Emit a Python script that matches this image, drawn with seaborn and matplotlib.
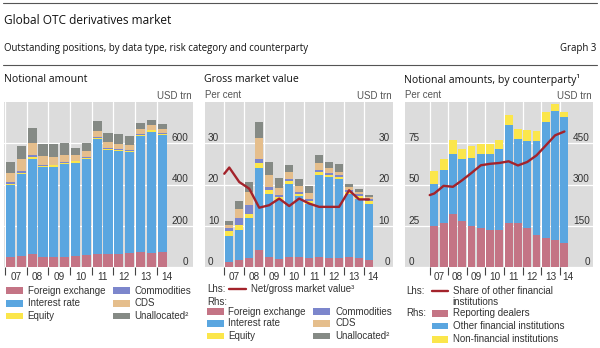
import numpy as np
import matplotlib
matplotlib.use("Agg")
import matplotlib.pyplot as plt
import seaborn as sns
from matplotlib.patches import Rectangle
from matplotlib.lines import Line2D

# ---------------- data ----------------
periods = ["Jun07", "Dec07", "Jun08", "Dec08", "Jun09", "Dec09", "Jun10", "Dec10",
           "Jun11", "Dec11", "Jun12", "Dec12", "Jun13", "Dec13", "Jun14"]
year_labels = ["07", "08", "09", "10", "11", "12", "13", "14"]

# Notional amount, USD trn
na_fx = [48.6, 56.2, 63.0, 50.0, 48.7, 49.2, 53.2, 57.8, 64.7, 63.3, 66.6, 67.4, 73.1, 70.6, 74.8]
na_ir = [347.3, 393.1, 458.3, 432.7, 437.2, 449.9, 451.8, 465.3, 553.2, 504.1, 494.0, 489.7, 561.3, 584.8, 563.3]
na_eq = [8.6, 8.5, 10.2, 6.5, 6.6, 5.9, 6.3, 5.6, 6.8, 6.0, 6.3, 6.3, 6.8, 6.6, 6.9]
na_com = [7.6, 8.5, 13.2, 4.4, 3.7, 2.9, 2.9, 2.9, 3.2, 3.1, 3.0, 2.6, 2.5, 2.2, 2.2]
na_cds = [42.6, 58.2, 57.4, 41.9, 36.0, 32.7, 30.3, 29.9, 32.4, 28.6, 26.9, 25.1, 24.3, 21.0, 19.5]
na_un = [54, 60, 69, 60, 63, 60, 34, 40, 46, 42, 45, 44, 27, 26, 25]

# Gross market value, USD trn
gv_fx = [1.4, 1.8, 2.3, 4.1, 2.6, 2.1, 2.5, 2.5, 2.3, 2.6, 2.3, 2.3, 2.4, 2.2, 1.7]
gv_ir = [6.2, 7.2, 9.5, 20.0, 15.2, 14.1, 17.7, 14.7, 13.1, 19.8, 19.4, 19.0, 15.2, 14.4, 13.7]
gv_eq = [1.1, 1.1, 1.1, 1.1, 0.9, 0.7, 0.7, 0.6, 0.7, 0.7, 0.6, 0.6, 0.7, 0.7, 0.7]
gv_com = [0.7, 1.9, 2.2, 0.9, 0.7, 0.5, 0.5, 0.5, 0.5, 0.5, 0.4, 0.4, 0.4, 0.3, 0.3]
gv_cds = [0.7, 2.0, 3.2, 5.1, 2.9, 1.8, 1.7, 1.4, 1.3, 1.6, 1.2, 0.8, 0.7, 0.6, 0.6]
gv_un = [1.2, 2.0, 2.2, 4.0, 3.1, 2.4, 1.7, 1.7, 1.7, 2.0, 1.6, 1.9, 0.8, 0.8, 0.5]
# Net/gross market value, per cent (first point at start of period)
ng_pos = [-0.5, 0, 1, 2, 3, 4, 5, 6, 7, 8, 9, 10, 11, 12, 13, 14]
ng_pct = [22.6, 24.1, 20.6, 19.0, 14.4, 15.0, 16.6, 14.8, 16.6, 15.4, 14.6, 14.6, 14.6, 18.6, 16.4, 16.4]

# Notional amounts by counterparty, USD trn
cp_rd = [151, 159, 192, 168, 151, 141, 135, 135, 159, 159, 141, 117, 105, 99, 87]
cp_ofi = [150, 193, 217, 226, 246, 271, 277, 292, 355, 307, 315, 339, 421, 469, 457]
cp_nfi = [47, 42, 51, 36, 41, 36, 36, 36, 38, 36, 40, 37, 36, 22, 18]
# Share of other financial institutions, per cent
ofi_pos = [-0.5, 0, 1, 2, 3, 4, 5, 6, 7, 8, 9, 10, 11, 12, 13, 14]
ofi_pct = [43.6, 44.6, 49.2, 48.6, 52.6, 57.0, 61.6, 62.5, 63.0, 64.0, 61.5, 63.6, 67.6, 73.6, 79.7, 82.0]

risk_labels = ["Foreign exchange", "Interest rate", "Equity", "Commodities", "CDS", "Unallocated²"]
cp_labels = ["Reporting dealers", "Other financial institutions", "Non-financial institutions"]

# ---------------- style ----------------
C_FX = "#C47485"
C_IR = "#5AA6E0"
C_EQ = "#FBE64B"
C_COM = "#7C86CC"
C_CDS = "#E5BE8C"
C_UN = "#858A85"
C_LINE = "#A3232B"
BG = "#DCDCDC"
TXT = "#333333"
risk_colors = [C_FX, C_IR, C_EQ, C_COM, C_CDS, C_UN]

sns.set_theme(style="white")
plt.rcParams['font.family'] = ['Liberation Sans', 'DejaVu Sans']
TITLE_FONT = ['Open Sans', 'DejaVu Sans']

W, H = 600, 348
fig = plt.figure(figsize=(W / 100, H / 100), dpi=100)


def fx(px):
    return px / W


def fy(py):
    return 1 - py / H


Y_TOP, Y_BOT = 101.7, 267.3
n = len(periods)
xpos = np.arange(n)


def make_axes(x0, x1, xl, xr, ymax):
    ax = fig.add_axes([fx(x0), fy(Y_BOT), (x1 - x0) / W, (Y_BOT - Y_TOP) / H])
    ax.set_facecolor(BG)
    for s in ax.spines.values():
        s.set_visible(False)
    ax.set_xlim(xl, xr)
    ax.set_ylim(0, ymax)
    return ax


def stacked(ax, layers, colors):
    cum = np.cumsum(np.array(layers, dtype=float), axis=0)
    for i in range(len(layers) - 1, -1, -1):
        sns.barplot(x=xpos, y=cum[i], color=colors[i], native_scale=True, width=0.84,
                    saturation=1, errorbar=None, linewidth=0, ax=ax, zorder=2)


def finish(ax, xl, xr, ymax, ticks):
    ax.set_xlim(xl, xr)
    ax.set_ylim(0, ymax)
    ax.set_yticks(ticks)
    ax.grid(axis='y', color='white', linewidth=0.9)
    ax.grid(axis='x', visible=False)
    ax.set_axisbelow(True)
    ax.tick_params(axis='y', length=0, labelleft=False, labelright=False)
    bounds = np.arange(-0.5, n - 1, 2)
    for b in bounds:
        ax.axvline(b, color='white', linewidth=0.9, zorder=1)
    ax.set_xticks(bounds)
    ax.set_xticklabels([])
    ax.tick_params(axis='x', which='major', length=5.5, width=0.8, color='#444444',
                   direction='out', bottom=True)
    centers = [min(b + 1.0, n - 1 + 0.4) for b in bounds]
    ax.set_xticks(centers, minor=True)
    ax.set_xticklabels(year_labels, minor=True, fontsize=7.2, color=TXT)
    ax.tick_params(axis='x', which='minor', length=0, pad=3.2)
    ax.set_xlabel("")
    ax.set_ylabel("")


def ylabels(ax, ticks, labels, x, ha):
    for t, l in zip(ticks, labels):
        ax.text(x, t, l, ha=ha, va='bottom', fontsize=7.2, color=TXT, zorder=3)


# ---------- Panel 1 ----------
ax1 = make_axes(4, 193, -0.59, 16.83, 800)
stacked(ax1, [na_fx, na_ir, na_eq, na_com, na_cds, na_un], risk_colors)
t1 = [0, 200, 400, 600]
finish(ax1, -0.59, 16.83, 800, t1)
ylabels(ax1, t1, [str(t) for t in t1], 16.4, 'right')

# ---------- Panel 2 ----------
ax2 = make_axes(205, 393.3, -2.43, 16.43, 40)
stacked(ax2, [gv_fx, gv_ir, gv_eq, gv_com, gv_cds, gv_un], risk_colors)
sns.lineplot(x=ng_pos, y=ng_pct, color=C_LINE, linewidth=1.7, ax=ax2, zorder=4)
t2 = [0, 10, 20, 30]
finish(ax2, -2.43, 16.43, 40, t2)
ylabels(ax2, t2, [str(t) for t in t2], -2.15, 'left')
ylabels(ax2, t2, [str(t) for t in t2], 16.1, 'right')

# ---------- Panel 3 ----------
ax3 = make_axes(405, 593, -3.16, 17.08, 600)
stacked(ax3, [cp_rd, cp_ofi, cp_nfi], [C_FX, C_IR, C_EQ])
t3 = [0, 150, 300, 450]
finish(ax3, -3.16, 17.08, 600, t3)
ylabels(ax3, t3, [str(t) for t in t3], 16.75, 'right')
ax3l = ax3.twinx()
ax3l.patch.set_visible(False)
for s in ax3l.spines.values():
    s.set_visible(False)
sns.lineplot(x=ofi_pos, y=ofi_pct, color=C_LINE, linewidth=1.7, ax=ax3l, zorder=4)
ax3l.set_ylim(0, 100)
ax3l.set_xlim(-3.16, 17.08)
ax3l.set_yticks([])
ax3l.set_ylabel("")
t3l = [0, 25, 50, 75]
ylabels(ax3l, t3l, [str(t) for t in t3l], -2.8, 'left')

# ---------------- headers ----------------
def ftext(px, py, s, **kw):
    fig.text(fx(px), fy(py), s, **kw)


fig.add_artist(Line2D([fx(3), fx(597)], [fy(2.5), fy(2.5)], color='#555555', linewidth=0.8))
fig.add_artist(Line2D([fx(3), fx(597)], [fy(64.5), fy(64.5)], color='#555555', linewidth=0.8))
ftext(4, 20, "Global OTC derivatives market", fontsize=8.6, family=TITLE_FONT, va='center', color='#111111')
ftext(4, 49, "Outstanding positions, by data type, risk category and counterparty",
      fontsize=6.9, family=TITLE_FONT, va='center', color='#111111')
ftext(596, 49, "Graph 3", fontsize=6.9, family=TITLE_FONT, va='center', ha='right', color='#111111')

ftext(4, 80, "Notional amount", fontsize=7.6, family=TITLE_FONT, va='center', color='#111111')
ftext(204, 80, "Gross market value", fontsize=7.6, family=TITLE_FONT, va='center', color='#111111')
ftext(404, 80, "Notional amounts, by counterparty¹", fontsize=7.6, family=TITLE_FONT,
      va='center', color='#111111')

ftext(192, 96, "USD trn", fontsize=7.0, ha='right', va='center', color='#555555')
ftext(205, 95, "Per cent", fontsize=7.0, ha='left', va='center', color='#555555')
ftext(392, 96, "USD trn", fontsize=7.0, ha='right', va='center', color='#555555')
ftext(405, 95, "Per cent", fontsize=7.0, ha='left', va='center', color='#555555')
ftext(592, 96, "USD trn", fontsize=7.0, ha='right', va='center', color='#555555')

# ---------------- legends ----------------
SW, SH = 16.7, 6.5
LFS = 7.0


def swatch(px, py, color):
    fig.add_artist(Rectangle((fx(px), fy(py + SH / 2)), SW / W, SH / H, facecolor=color,
                             edgecolor='none', transform=fig.transFigure))


def lswatch(px, py, color):
    fig.add_artist(Line2D([fx(px), fx(px + SW)], [fy(py), fy(py)], color=color, linewidth=1.7))


def ltext(px, py, s):
    ftext(px, py, s, fontsize=LFS, va='center', color=TXT)


def risk_legend(x_sw1, x_tx1, x_sw2, x_tx2, rows):
    for i in range(3):
        swatch(x_sw1, rows[i], risk_colors[i])
        ltext(x_tx1, rows[i], risk_labels[i])
        swatch(x_sw2, rows[i], risk_colors[i + 3])
        ltext(x_tx2, rows[i], risk_labels[i + 3])


risk_legend(6, 27.7, 113, 134.3, [290.7, 303.3, 316])

ltext(207.3, 289.3, "Lhs:")
lswatch(229, 289.3, C_LINE)
ltext(250.7, 289.3, "Net/gross market value³")
ltext(207.3, 301.7, "Rhs:")
risk_legend(207.3, 228.3, 313, 335, [311.7, 323.3, 336])

ltext(406.7, 290.7, "Lhs:")
lswatch(431.7, 290.7, C_LINE)
ltext(452.7, 290.7, "Share of other financial")
ltext(452.7, 301.7, "institutions")
ltext(406.7, 313.3, "Rhs:")
for lab, col, yy in zip(cp_labels, [C_FX, C_IR, C_EQ], [313.3, 326, 339.3]):
    swatch(431.7, yy, col)
    ltext(452.7, yy, lab)

fig.savefig("out.png", dpi=100)
